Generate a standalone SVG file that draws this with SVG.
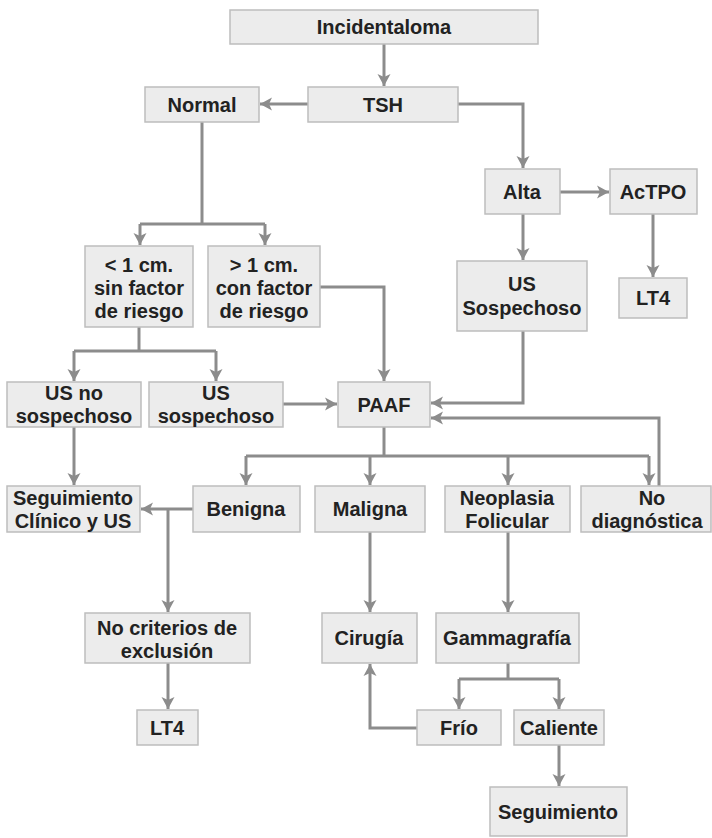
<svg xmlns="http://www.w3.org/2000/svg" width="712" height="838" viewBox="0 0 712 838">
<style>
.box{fill:#ececec;stroke:#bdbdbd;stroke-width:1.5}
text{font-family:"Liberation Sans",Arial,sans-serif;font-weight:bold;font-size:20px;fill:#222;text-anchor:middle}
.c{fill:none;stroke:#8c8c8c;stroke-width:3}
</style>
<defs>
<marker id="ah" markerUnits="userSpaceOnUse" markerWidth="14" markerHeight="14" refX="12" refY="7" orient="auto">
<path d="M0,0.5 L12,7 L0,13.5 L3,7 Z" fill="#8c8c8c"/>
</marker>
</defs>
<g id="connectors">
<path class="c" d="M384,44 V86" marker-end="url(#ah)"/>
<path class="c" d="M308,104 H260" marker-end="url(#ah)"/>
<path class="c" d="M458,104 H523 V168" marker-end="url(#ah)"/>
<path class="c" d="M560,192 H609" marker-end="url(#ah)"/>
<path class="c" d="M653,214 V277" marker-end="url(#ah)"/>
<path class="c" d="M523,214 V260" marker-end="url(#ah)"/>
<path class="c" d="M202,122 V224"/>
<path class="c" d="M140,224 H265"/>
<path class="c" d="M140,224 V245" marker-end="url(#ah)"/>
<path class="c" d="M265,224 V245" marker-end="url(#ah)"/>
<path class="c" d="M320,287 H384 V381" marker-end="url(#ah)"/>
<path class="c" d="M139,327 V351"/>
<path class="c" d="M74,351 H216"/>
<path class="c" d="M74,351 V381" marker-end="url(#ah)"/>
<path class="c" d="M216,351 V381" marker-end="url(#ah)"/>
<path class="c" d="M283,404 H337" marker-end="url(#ah)"/>
<path class="c" d="M523,331 V403 H431" marker-end="url(#ah)"/>
<path class="c" d="M659,486 V418 H431" marker-end="url(#ah)"/>
<path class="c" d="M384,427 V456"/>
<path class="c" d="M246,456 H649"/>
<path class="c" d="M246,456 V485" marker-end="url(#ah)"/>
<path class="c" d="M370,456 V485" marker-end="url(#ah)"/>
<path class="c" d="M508,456 V485" marker-end="url(#ah)"/>
<path class="c" d="M649,456 V485" marker-end="url(#ah)"/>
<path class="c" d="M74,427 V485" marker-end="url(#ah)"/>
<path class="c" d="M193,509 H141" marker-end="url(#ah)"/>
<path class="c" d="M168,509 V612" marker-end="url(#ah)"/>
<path class="c" d="M370,532 V612" marker-end="url(#ah)"/>
<path class="c" d="M508,532 V612" marker-end="url(#ah)"/>
<path class="c" d="M168,663 V709" marker-end="url(#ah)"/>
<path class="c" d="M508,663 V679"/>
<path class="c" d="M459,679 H559"/>
<path class="c" d="M459,679 V709" marker-end="url(#ah)"/>
<path class="c" d="M559,679 V709" marker-end="url(#ah)"/>
<path class="c" d="M417,728 H370 V664" marker-end="url(#ah)"/>
<path class="c" d="M559,745 V786" marker-end="url(#ah)"/>
</g>
<g id="incidentaloma"><rect class="box" x="230" y="10" width="308" height="34"/><text x="384" y="34">Incidentaloma</text></g>
<g id="tsh"><rect class="box" x="308" y="87" width="150" height="35"/><text x="383" y="112">TSH</text></g>
<g id="normal"><rect class="box" x="145" y="87" width="114" height="35"/><text x="202" y="112">Normal</text></g>
<g id="alta"><rect class="box" x="485" y="169" width="75" height="45"/><text x="522" y="199">Alta</text></g>
<g id="actpo"><rect class="box" x="610" y="169" width="87" height="45"/><text x="653" y="199">AcTPO</text></g>
<g id="menor1"><rect class="box" x="85" y="246" width="108" height="81"/><text x="139" y="272">&lt; 1 cm.</text><text x="139" y="295">sin factor</text><text x="139" y="318">de riesgo</text></g>
<g id="mayor1"><rect class="box" x="208" y="246" width="112" height="81"/><text x="264" y="272">&gt; 1 cm.</text><text x="264" y="295">con factor</text><text x="264" y="318">de riesgo</text></g>
<g id="ussospechoso2"><rect class="box" x="457" y="261" width="130" height="70"/><text x="522" y="291">US</text><text x="522" y="315">Sospechoso</text></g>
<g id="lt4a"><rect class="box" x="619" y="278" width="68" height="40"/><text x="653" y="305">LT4</text></g>
<g id="usnosospechoso"><rect class="box" x="7" y="382" width="134" height="45"/><text x="74" y="400">US no</text><text x="74" y="423">sospechoso</text></g>
<g id="ussospechoso"><rect class="box" x="149" y="382" width="134" height="45"/><text x="216" y="400">US</text><text x="216" y="423">sospechoso</text></g>
<g id="paaf"><rect class="box" x="338" y="382" width="92" height="45"/><text x="384" y="412">PAAF</text></g>
<g id="seguimientoclinico"><rect class="box" x="7" y="486" width="133" height="46"/><text x="73" y="505">Seguimiento</text><text x="73" y="528">Clínico y US</text></g>
<g id="benigna"><rect class="box" x="193" y="486" width="107" height="46"/><text x="246" y="516">Benigna</text></g>
<g id="maligna"><rect class="box" x="315" y="486" width="110" height="46"/><text x="370" y="516">Maligna</text></g>
<g id="neoplasia"><rect class="box" x="445" y="486" width="125" height="46"/><text x="507" y="505">Neoplasia</text><text x="507" y="528">Folicular</text></g>
<g id="nodiagnostica"><rect class="box" x="581" y="486" width="130" height="46"/><text x="652" y="505">No</text><text x="647" y="528">diagnóstica</text></g>
<g id="nocriterios"><rect class="box" x="85" y="613" width="165" height="50"/><text x="167" y="635">No criterios de</text><text x="167" y="658">exclusión</text></g>
<g id="cirugia"><rect class="box" x="322" y="613" width="95" height="50"/><text x="369" y="645">Cirugía</text></g>
<g id="gammagrafia"><rect class="box" x="436" y="613" width="143" height="50"/><text x="507" y="645">Gammagrafía</text></g>
<g id="lt4b"><rect class="box" x="137" y="710" width="61" height="35"/><text x="167" y="735">LT4</text></g>
<g id="frio"><rect class="box" x="417" y="710" width="84" height="35"/><text x="459" y="735">Frío</text></g>
<g id="caliente"><rect class="box" x="514" y="710" width="90" height="35"/><text x="559" y="735">Caliente</text></g>
<g id="seguimiento"><rect class="box" x="490" y="787" width="137" height="49"/><text x="558" y="819">Seguimiento</text></g>
</svg>
